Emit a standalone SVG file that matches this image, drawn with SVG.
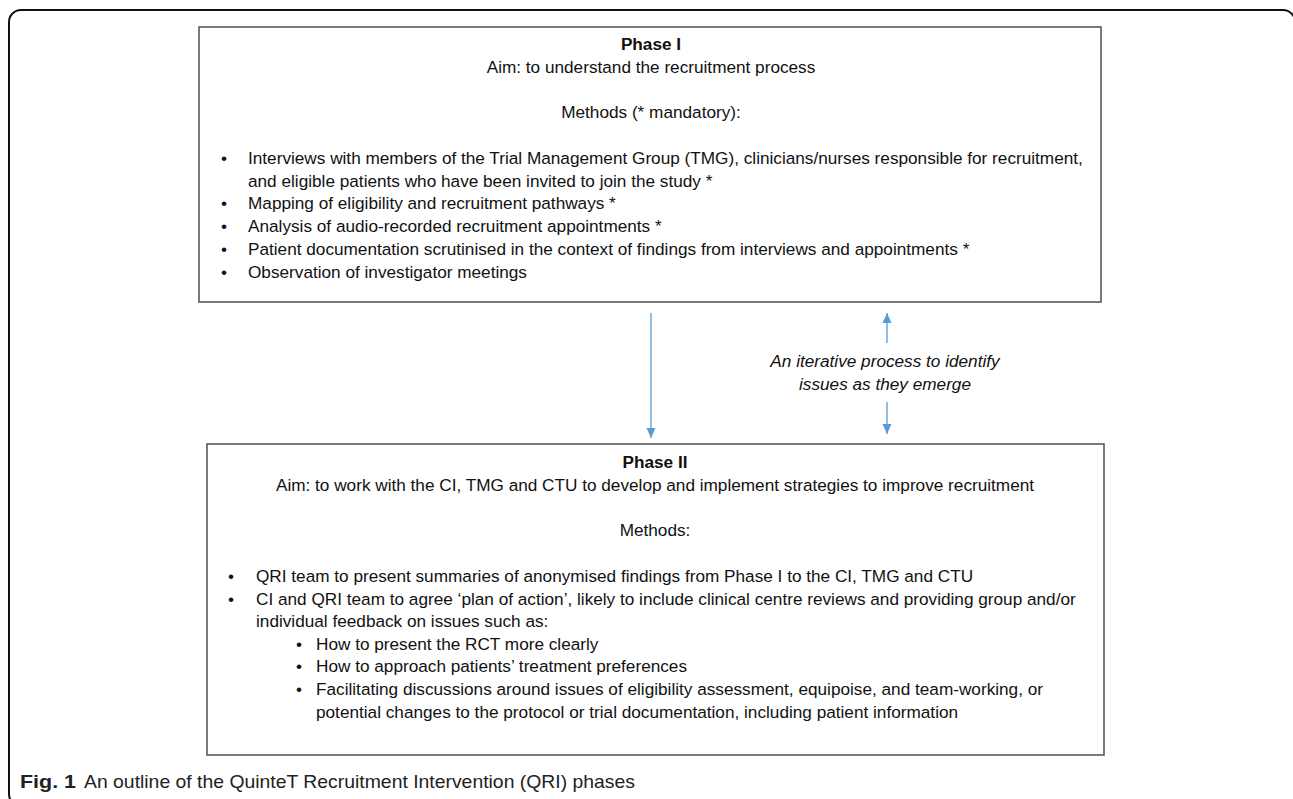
<svg xmlns="http://www.w3.org/2000/svg" width="1293" height="799" viewBox="0 0 1293 799">
<style>
.t{font-family:"Liberation Sans",Arial,sans-serif;font-size:17.2px;fill:#111}
.b{font-weight:bold}
.c{text-anchor:middle}
.i{font-style:italic}
.box{fill:#fff;stroke:#595959;stroke-width:1.6}
.conn{stroke:#5b9bd5;stroke-width:1.3;fill:none}
.cap{font-family:"Liberation Sans",Arial,sans-serif;font-size:19px;fill:#222}
</style>
<defs>
<marker id="ah" markerUnits="userSpaceOnUse" markerWidth="12" markerHeight="12" viewBox="0 0 12 12" refX="10" refY="6" orient="auto">
<path d="M0,1.5 L10,6 L0,10.5 Z" fill="#5b9bd5"/>
</marker>
</defs>
<rect width="1293" height="799" fill="#fff"/>
<rect x="9" y="10" width="1286" height="796" rx="12" fill="none" stroke="#111" stroke-width="2"/>

<g id="phase1">
<rect class="box" x="199" y="27" width="902" height="275"/>
<text class="t b c" x="651" y="50">Phase I</text>
<text class="t c" x="651" y="73">Aim: to understand the recruitment process</text>
<text class="t c" x="651" y="118">Methods (* mandatory):</text>
<text class="t" x="221" y="164">•</text>
<text class="t" x="248" y="164">Interviews with members of the Trial Management Group (TMG), clinicians/nurses responsible for recruitment,</text>
<text class="t" x="248" y="187">and eligible patients who have been invited to join the study *</text>
<text class="t" x="221" y="209">•</text>
<text class="t" x="248" y="209">Mapping of eligibility and recruitment pathways *</text>
<text class="t" x="221" y="232">•</text>
<text class="t" x="248" y="232">Analysis of audio-recorded recruitment appointments *</text>
<text class="t" x="221" y="255">•</text>
<text class="t" x="248" y="255">Patient documentation scrutinised in the context of findings from interviews and appointments *</text>
<text class="t" x="221" y="278">•</text>
<text class="t" x="248" y="278">Observation of investigator meetings</text>
</g>

<g id="iterative-label">
<text class="t i c" x="885" y="367">An iterative process to identify</text>
<text class="t i c" x="885" y="390">issues as they emerge</text>
</g>

<g id="phase2">
<rect class="box" x="207" y="444" width="897" height="311"/>
<text class="t b c" x="655" y="468">Phase II</text>
<text class="t c" x="655" y="491">Aim: to work with the CI, TMG and CTU to develop and implement strategies to improve recruitment</text>
<text class="t c" x="655" y="536">Methods:</text>
<text class="t" x="228" y="582">•</text>
<text class="t" x="256" y="582">QRI team to present summaries of anonymised findings from Phase I to the CI, TMG and CTU</text>
<text class="t" x="228" y="605">•</text>
<text class="t" x="256" y="605">CI and QRI team to agree ‘plan of action’, likely to include clinical centre reviews and providing group and/or</text>
<text class="t" x="256" y="627">individual feedback on issues such as:</text>
<text class="t" x="296" y="650">•</text>
<text class="t" x="316" y="650">How to present the RCT more clearly</text>
<text class="t" x="296" y="672">•</text>
<text class="t" x="316" y="672">How to approach patients’ treatment preferences</text>
<text class="t" x="296" y="695">•</text>
<text class="t" x="316" y="695">Facilitating discussions around issues of eligibility assessment, equipoise, and team-working, or</text>
<text class="t" x="316" y="718">potential changes to the protocol or trial documentation, including patient information</text>
</g>

<g id="connectors">
<line class="conn" x1="651" y1="313" x2="651" y2="438" marker-end="url(#ah)"/>
<line class="conn" x1="887" y1="343" x2="887" y2="313" marker-end="url(#ah)"/>
<line class="conn" x1="887" y1="402" x2="887" y2="434" marker-end="url(#ah)"/>
</g>

<g id="caption">
<text class="cap" x="20" y="788"><tspan font-weight="bold" textLength="56" lengthAdjust="spacingAndGlyphs">Fig. 1</tspan><tspan x="84" textLength="551" lengthAdjust="spacingAndGlyphs">An outline of the QuinteT Recruitment Intervention (QRI) phases</tspan></text>
</g>
</svg>
